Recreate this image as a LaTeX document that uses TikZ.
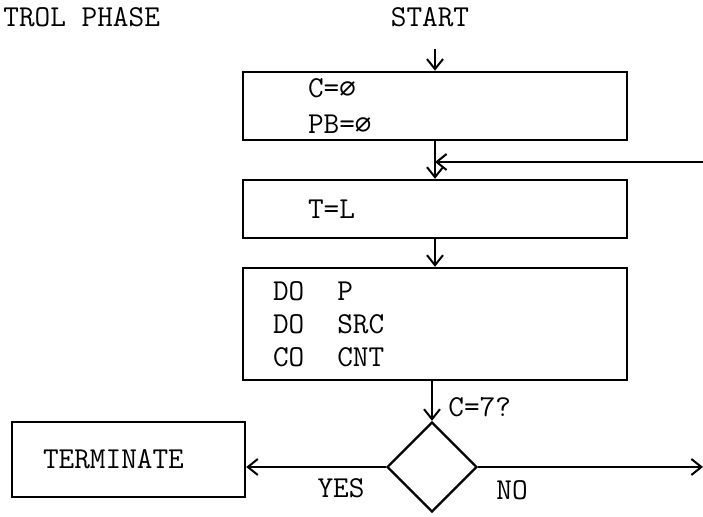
\documentclass[tikz,border=0pt]{standalone}
\usepackage{fontspec}
\newfontfamily\zerofont[Scale=0.9]{DejaVu Sans Mono}
\usepackage{tikz}
\usetikzlibrary{arrows.meta, positioning, shapes.geometric}
\newcommand{\nul}{{\zerofont ∅}}
\newcommand{\gap}{\hspace*{16.5pt}}

\begin{document}
\begin{tikzpicture}[x=0.5pt, y=-0.5pt,
  every node/.style={font=\ttfamily\fontsize{15.2}{16.5}\selectfont},
  box/.style={draw, line width=1.2pt, minimum width=192pt, align=left, inner xsep=32.5pt, text width=127pt},
  decide/.style={draw, line width=1.2pt, diamond, aspect=1, minimum width=45pt, minimum height=45pt, inner sep=0pt},
  flow/.style={-{Straight Barb[length=5pt, width=8pt]}, line width=1pt},
  tag/.style={inner sep=0pt}
]
\useasboundingbox (0,0) rectangle (703,517);

\node[tag, anchor=west] (phase) at (3,17) {TROL PHASE};
\node[tag] (start) at (430,17) {START};

\node[box, minimum height=34pt, font=\ttfamily\fontsize{15.2}{18}\selectfont] (init) at (435,106) {C=\nul\\PB=\nul};
\node[box, minimum height=29pt] (calc) at (435,209) {T=L};
\node[box, minimum height=56pt, inner xsep=15pt, text width=162pt] (work) at (435,324) {DO\gap P\\DO\gap SRC\\CO\gap CNT};
\node[decide] (dec) at (432,467) {};
\node[box, minimum width=116.5pt, minimum height=37.5pt, inner xsep=15.5pt, text width=85.5pt] (term) at (128.5,459.5) {TERMINATE};

\node[tag, anchor=west] (cond) at (448,407) {C=7?};
\node[tag] (yes) at (341,488) {YES};
\node[tag] (no) at (512,490) {NO};

\coordinate (back) at (703,162);
\coordinate (out) at (703,467);

\draw[flow, shorten <=11pt] (start.south -| init.north) -- (init.north);
\draw[flow] (init.south) -- (calc.north);
\draw[flow] (back) -- (back -| init.south);
\draw[flow] (calc.south) -- (work.north);
\draw[flow] (work.south -| dec.north) -- (dec.north);
\draw[flow] (dec.west) -- (dec.west -| term.east);
\draw[flow] (dec.east) -- (out);

\end{tikzpicture}
\end{document}
